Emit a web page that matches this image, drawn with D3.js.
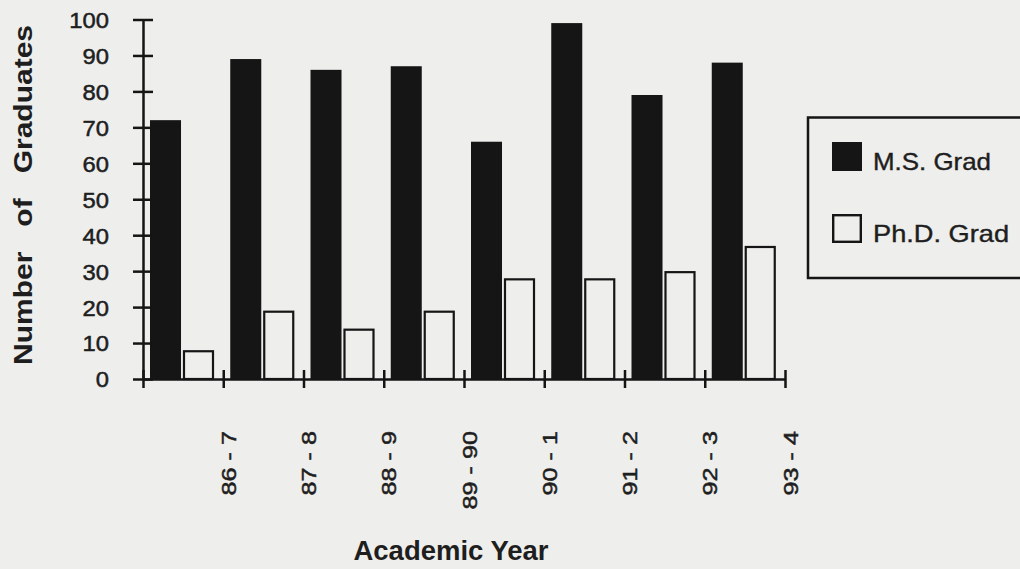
<!DOCTYPE html>
<html><head><meta charset="utf-8">
<script src="https://cdn.jsdelivr.net/npm/d3@7"></script>
<style>
html,body{margin:0;padding:0;background:#eeeeec;}
svg{display:block;font-family:"Liberation Sans", Arial, Helvetica, sans-serif;}
</style></head><body>
<svg id="chart" width="1020" height="569"></svg>
<script>
// ---- data ----
const years = ["86-7","87-8","88-9","89-90","90-1","91-2","92-3","93-4"];
const yearLabels = ["86 - 7","87 - 8","88 - 9","89 - 90","90 - 1","91 - 2","92 - 3","93 - 4"];
const msGrad = [72, 89, 86, 87, 66, 99, 79, 88];
const phdGrad = [8, 19, 14, 19, 28, 28, 30, 37];
const seriesNames = ["M.S. Grad", "Ph.D. Grad"];
const yTicks = [0,10,20,30,40,50,60,70,80,90,100];

// ---- layout ----
const INK = "#151515", BG = "#eeeeec", TXT = "#1e1e1e";
const FONT = "'Liberation Sans', Arial, Helvetica, sans-serif";
const svg = d3.select("#chart");
svg.append("rect").attr("width",1020).attr("height",569).attr("fill",BG);

const x = d3.scaleBand().domain(years).range([143, 785]).padding(0);
const tickPos = d3.scalePoint().domain(["", ...years]).range([143, 785]);
const x1 = d3.scaleBand().domain(seriesNames).range([7, 71]).paddingInner(0.06);
const y = d3.scaleLinear().domain([0, 100]).range([379, 19.5]);

function stretch(sel, k){
  sel.each(function(){
    const L = this.getComputedTextLength();
    d3.select(this).attr("textLength", L*k).attr("lengthAdjust","spacingAndGlyphs");
  });
}
function fitTo(sel, len){
  sel.attr("textLength", len).attr("lengthAdjust","spacingAndGlyphs");
}
function heavy(sel, w){
  sel.attr("stroke", TXT).attr("stroke-width", w).attr("paint-order","stroke");
}

// ---- bars ----
const rows = years.map((yr,i)=>({year:yr, ms:msGrad[i], phd:phdGrad[i]}));
const groups = svg.append("g").selectAll("g").data(rows).join("g")
  .attr("transform", d=>`translate(${x(d.year)},0)`);
groups.append("rect")
  .attr("x", x1("M.S. Grad"))
  .attr("y", d=>y(d.ms))
  .attr("width", x1.bandwidth())
  .attr("height", d=>y(0)-y(d.ms))
  .attr("fill", INK);
groups.append("rect")
  .attr("x", x1("Ph.D. Grad")+1)
  .attr("y", d=>y(d.phd)+1)
  .attr("width", x1.bandwidth()-2)
  .attr("height", d=>y(0)-y(d.phd)-1)
  .attr("fill", BG).attr("stroke", INK).attr("stroke-width", 2.2);

// ---- y axis ----
const gy = svg.append("g").attr("transform","translate(143,0)")
  .call(d3.axisLeft(y).tickValues(yTicks).tickSizeOuter(0));
gy.select(".domain").attr("stroke", INK).attr("stroke-width", 2.5);
gy.selectAll(".tick line").attr("x1",-10).attr("x2",10).attr("stroke",INK).attr("stroke-width",2.5);
gy.selectAll(".tick text").attr("x",-34).attr("dy","0.36em")
  .attr("fill",TXT).style("font-size","22px").style("font-family",FONT);
stretch(gy.selectAll(".tick text"), 1.08);
heavy(gy.selectAll(".tick text"), 0.5);

// ---- x axis ----
const gx = svg.append("g").attr("transform","translate(0,379)")
  .call(d3.axisBottom(tickPos).tickSizeOuter(0)
    .tickFormat((d,i)=> i===0 ? "" : yearLabels[i-1]));
gx.select(".domain").attr("stroke", INK).attr("stroke-width", 2.5);
gx.selectAll(".tick line").attr("y1",-9).attr("y2",9).attr("stroke",INK).attr("stroke-width",2.5);
gx.selectAll(".tick text").attr("x",0).attr("y",0).attr("dy",null)
  .attr("text-anchor","end")
  .attr("transform","translate(12,52) rotate(-90)")
  .attr("fill",TXT).style("font-size","21px").style("font-family",FONT);
stretch(gx.selectAll(".tick text"), 1.2);
heavy(gx.selectAll(".tick text"), 0.5);

// ---- axis titles ----
const yTitle = svg.append("text")
  .attr("transform","translate(32,195) rotate(-90)")
  .attr("text-anchor","middle")
  .style("white-space","pre")
  .style("font-weight","bold").style("font-size","25px").attr("fill",TXT)
  .text("Number   of   Graduates");
fitTo(yTitle, 340);

const xTitle = svg.append("text")
  .attr("x", 451).attr("y", 560)
  .attr("text-anchor","middle")
  .style("font-weight","bold").style("font-size","27px").attr("fill",TXT)
  .text("Academic Year");
fitTo(xTitle, 195);

// ---- legend ----
const lg = svg.append("g");
lg.append("rect").attr("x",808).attr("y",117.5).attr("width",260).attr("height",160.5)
  .attr("fill","none").attr("stroke",INK).attr("stroke-width",2.5);
const items = lg.selectAll("g.item").data(seriesNames).join("g").attr("class","item")
  .attr("transform",(d,i)=>`translate(0,${i*72})`);
items.append("rect")
  .attr("x", (d,i)=> i===0 ? 832 : 833.2)
  .attr("y", (d,i)=> i===0 ? 142 : 143.2)
  .attr("width", (d,i)=> i===0 ? 30 : 27.6)
  .attr("height", (d,i)=> i===0 ? 29 : 26.6)
  .attr("fill",(d,i)=> i===0 ? INK : BG)
  .attr("stroke",(d,i)=> i===0 ? "none" : INK).attr("stroke-width",2.4);
const ltxt = items.append("text").attr("x",873).attr("y",170)
  .style("font-size","24px").attr("fill",TXT).text(d=>d);
ltxt.each(function(d,i){ fitTo(d3.select(this), i===0 ? 118 : 136); });
heavy(ltxt, 0.4);
</script>
</body></html>
